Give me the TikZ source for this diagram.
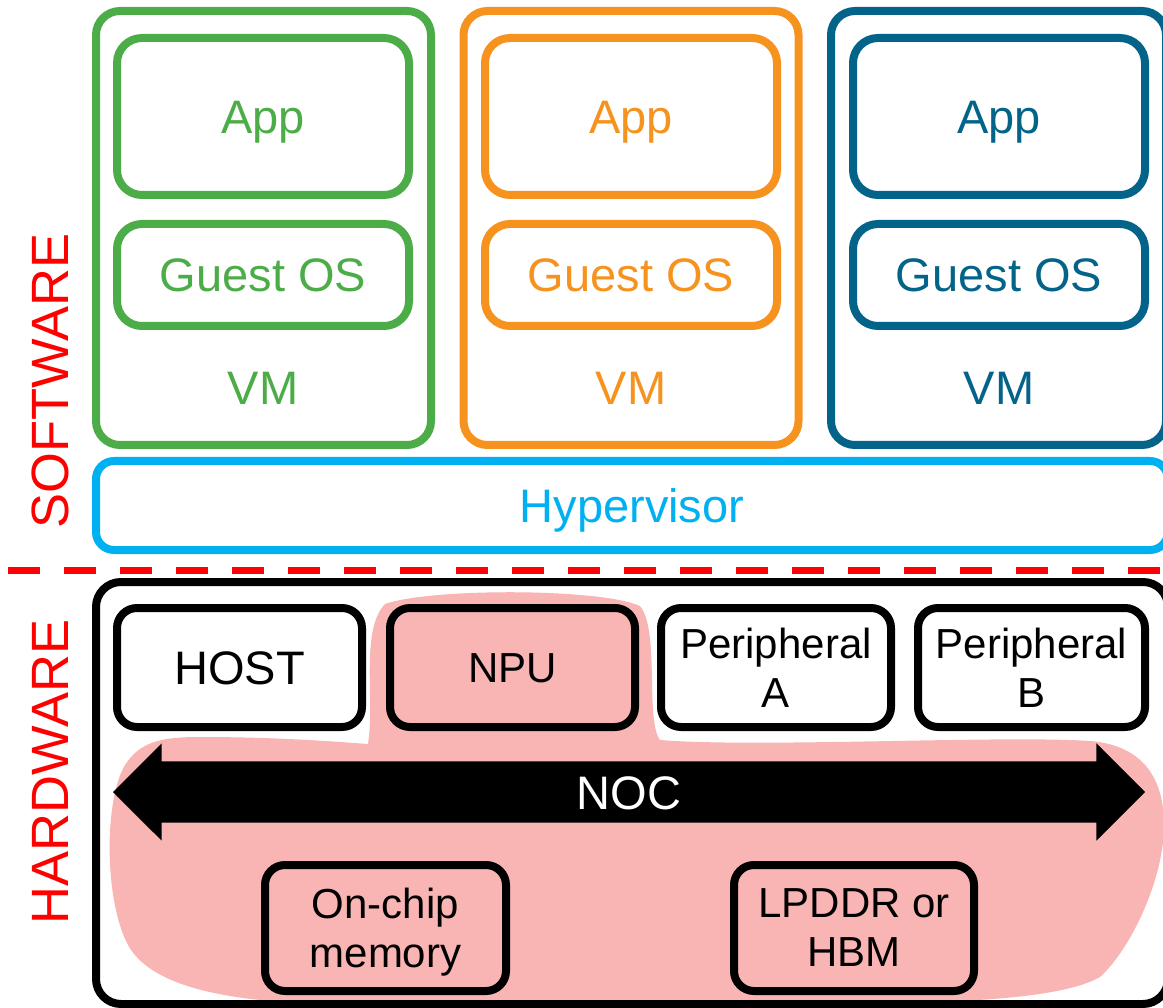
\documentclass[tikz,border=0pt]{standalone}
\usepackage{fontspec}
\setmainfont{Liberation Sans}
\usepackage{xcolor}
\usepackage{tikz}
\usetikzlibrary{shapes.arrows}

\definecolor{vmgruen}{RGB}{76,173,72}
\definecolor{vmorange}{RGB}{246,146,30}
\definecolor{vmblau}{RGB}{3,99,137}
\definecolor{hypblau}{RGB}{0,176,240}
\definecolor{nocrosa}{RGB}{249,180,180}

\newcommand{\grosstext}{\fontsize{47}{50}\selectfont}
\newcommand{\kleintext}{\fontsize{42}{49}\selectfont}
\newcommand{\seitentext}{\fontsize{52.5}{56}\selectfont}

\tikzset{
  vmbox/.style={draw=#1, line width=8pt, rounded corners=24pt, minimum width=335pt, minimum height=434pt, inner sep=0pt},
  swbox/.style={draw=#1, text=#1, line width=8pt, rounded corners=25pt, minimum width=292pt, inner sep=0pt, font=\grosstext, text height=34pt, text depth=0pt},
  vmtext/.style={text=#1, font=\grosstext, text height=34pt, text depth=0pt, inner sep=0pt},
  hwbox/.style={draw, line width=8pt, rounded corners=20pt, inner sep=0pt, minimum height=119pt, align=center, text depth=0pt},
  seite/.style={red, font=\seitentext, rotate=90, inner sep=0pt}
}

\begin{document}
\begin{tikzpicture}[x=1pt,y=-1pt]
\useasboundingbox (0,0) rectangle (1163,1008);

% Software
\node[vmbox=vmgruen] (vm1) at (263.5,228) {};									% VM 1
\node[swbox=vmgruen, minimum height=157pt] (app1) at (263,116.5) {App};
\node[swbox=vmgruen, minimum height=102pt] (os1) at (263,275) {Guest OS};
\node[vmtext=vmgruen] (vmt1) at (263,388) {VM};

\node[vmbox=vmorange] (vm2) at (631,228) {};									% VM 2
\node[swbox=vmorange, minimum height=157pt] (app2) at (631,116.5) {App};
\node[swbox=vmorange, minimum height=102pt] (os2) at (631,275) {Guest OS};
\node[vmtext=vmorange] (vmt2) at (631,388) {VM};

\node[vmbox=vmblau] (vm3) at (998.5,228) {};									% VM 3
\node[swbox=vmblau, minimum height=157pt] (app3) at (999,116.5) {App};
\node[swbox=vmblau, minimum height=102pt] (os3) at (999,275) {Guest OS};
\node[vmtext=vmblau] (vmt3) at (999,388) {VM};

\node[swbox=hypblau, rounded corners=18pt, minimum width=1072pt, minimum height=89pt] (hyp) at (632,505.5) {Hypervisor};

% Trennlinie
\coordinate (t1) at (8,570);
\coordinate (t2) at (1170,570);
\draw[red, line width=7pt, dash pattern=on 32pt off 24pt] (t1) -- (t2);
\node[seite] (sw) at (50,381) {SOFTWARE};
\node[seite] (hw) at (50,772) {HARDWARE};

% Hardware
\fill[nocrosa] (368,744) .. controls (375,700) and (360,630) .. (385,604)
  .. controls (430,588) and (600,588) .. (640,606)
  .. controls (660,630) and (645,720) .. (660,740)
  .. controls (760,748) and (1000,735) .. (1090,741)
  .. controls (1140,745) and (1164,775) .. (1164,825)
  .. controls (1164,880) and (1130,950) .. (1100,977)
  .. controls (1060,1000) and (950,1004) .. (800,1004)
  -- (300,1003)
  .. controls (220,999) and (150,985) .. (128,945)
  .. controls (104,900) and (104,800) .. (125,765)
  .. controls (140,742) and (160,737) .. (200,737)
  .. controls (280,737) and (340,742) .. cycle;				% NOC Bereich

\node[draw, line width=8pt, rounded corners=25pt, minimum width=1072pt, minimum height=422pt] (soc) at (632,793) {};

\node[hwbox, fill=white, minimum width=245pt, font=\grosstext, text height=34pt] (host) at (239.5,667.5) {HOST};
\node[hwbox, fill=nocrosa, minimum width=245pt, font=\kleintext, text height=30pt] (npu) at (512.5,667.5) {NPU};
\node[hwbox, fill=white, minimum width=230pt, font=\kleintext] (pa) at (776,667.5) {Peripheral\\A};
\node[hwbox, fill=white, minimum width=227pt, font=\kleintext] (pb) at (1031.5,667.5) {Peripheral\\B};

\node[double arrow, fill=black, text=white, font=\grosstext, text height=34pt, text depth=0pt,
  inner xsep=0pt, inner ysep=13.5pt, minimum height=1032pt, double arrow head extend=18pt] (noc) at (629,792) {NOC};

\node[hwbox, fill=nocrosa, minimum width=241pt, minimum height=126pt, font=\kleintext] (sram) at (385.5,928) {On-chip\\memory};
\node[hwbox, fill=nocrosa, minimum width=240pt, minimum height=126pt, font=\kleintext] (dram) at (854,928) {LPDDR or\\HBM};

\end{tikzpicture}
\end{document}
